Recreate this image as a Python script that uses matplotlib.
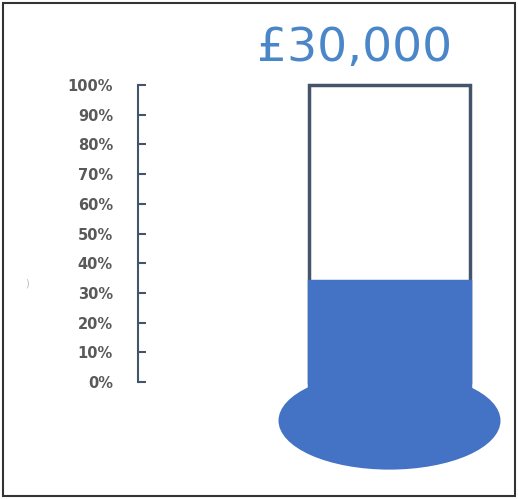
import numpy as np
import matplotlib.pyplot as plt
from matplotlib.patches import Ellipse, Rectangle

# chart values
target_label = "£30,000"
filled = 0.34
tick_vals = np.arange(0, 1.01, 0.1)
tick_labels = ["%d%%" % round(v * 100) for v in tick_vals]

W, H = 518, 499
fig = plt.figure(figsize=(W / 100, H / 100), dpi=100)
fig.patch.set_facecolor('white')

# outer frame
fig.add_artist(Rectangle((3 / W, 3 / H), (W - 6) / W, (H - 6) / H, transform=fig.transFigure,
                         fill=False, edgecolor='#333333', linewidth=1.5))

# axes: 0% at y=382, 100% at y=85 (pixels from top), spine at x=138
ax = fig.add_axes([138 / W, (H - 382) / H, (510 - 138) / W, 297 / H])
ax.set_xlim(0, 372)
ax.set_ylim(0, 1)
for s in ['top', 'right', 'bottom']:
    ax.spines[s].set_visible(False)
ax.spines['left'].set_color('#44546A')
ax.spines['left'].set_linewidth(1.5)
ax.set_xticks([])
ax.set_yticks(tick_vals)
ax.set_yticklabels(tick_labels)
ax.tick_params(axis='y', direction='in', length=6, width=1.5, color='#44546A',
               pad=18, labelsize=10.5, labelcolor='#595959')
for t in ax.get_yticklabels():
    t.set_fontweight('bold')

blue = '#4472C4'
tube_x, tube_w = 171, 161
# empty tube
ax.bar(tube_x, 1.0, width=tube_w, align='edge', color='white', edgecolor='#44546A',
       linewidth=2.5, clip_on=False, zorder=2)
# filled part (runs down into the bulb)
ax.bar(tube_x, filled + 0.1, bottom=-0.1, width=tube_w, align='edge', color=blue,
       edgecolor=blue, linewidth=2.5, clip_on=False, zorder=3)
# bulb
ax.add_patch(Ellipse((tube_x + tube_w / 2, -0.13), 222, 0.33, facecolor=blue,
                     edgecolor='none', clip_on=False, zorder=3))

fig.text(355 / W, 1 - 49 / H, target_label, ha='center', va='center', fontsize=34,
         color='#4A86C8')
fig.text(27 / W, 1 - 283 / H, ")", ha='center', va='center', fontsize=7, color='#bbbbbb')

fig.savefig('out.png', dpi=100)
